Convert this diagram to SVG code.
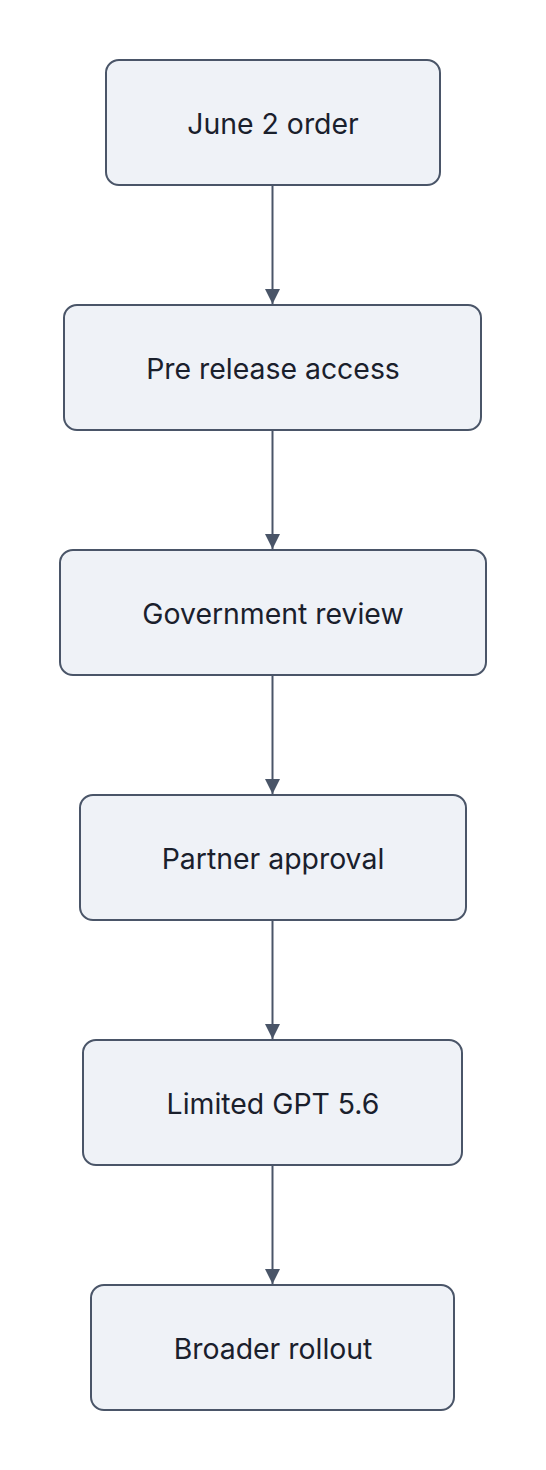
<svg xmlns="http://www.w3.org/2000/svg" width="546" height="1470" viewBox="0 0 546 1470">
<style>
.n rect{fill:#eff2f7;stroke:#4a5568;stroke-width:2}
.n text{font-family:Inter,"Noto Sans",sans-serif;font-size:28.4px;fill:#1a202c;text-anchor:middle}
.c line{stroke:#4a5568;stroke-width:2}
</style>
<defs>
<marker id="a" markerWidth="16" markerHeight="16" refX="15" refY="8" orient="auto" markerUnits="userSpaceOnUse">
<path d="M0,0.5 L15,8 L0,15.5 Z" fill="#4a5568"/>
</marker>
</defs>
<rect width="546" height="1470" fill="#ffffff"/>
<g class="c">
<line x1="272.5" y1="185" x2="272.5" y2="304" marker-end="url(#a)"/>
<line x1="272.5" y1="430" x2="272.5" y2="549" marker-end="url(#a)"/>
<line x1="272.5" y1="675" x2="272.5" y2="794" marker-end="url(#a)"/>
<line x1="272.5" y1="920" x2="272.5" y2="1039" marker-end="url(#a)"/>
<line x1="272.5" y1="1165" x2="272.5" y2="1284" marker-end="url(#a)"/>
</g>
<g id="n1" class="n"><rect x="106" y="60" width="334" height="125" rx="13"/><text x="273" y="134">June 2 order</text></g>
<g id="n2" class="n"><rect x="64" y="305" width="417" height="125" rx="13"/><text x="273" y="379">Pre release access</text></g>
<g id="n3" class="n"><rect x="60" y="550" width="426" height="125" rx="13"/><text x="273" y="624">Government review</text></g>
<g id="n4" class="n"><rect x="80" y="795" width="386" height="125" rx="13"/><text x="273" y="869">Partner approval</text></g>
<g id="n5" class="n"><rect x="83" y="1040" width="379" height="125" rx="13"/><text x="273" y="1114">Limited GPT 5.6</text></g>
<g id="n6" class="n"><rect x="91" y="1285" width="363" height="125" rx="13"/><text x="273" y="1359">Broader rollout</text></g>
</svg>
